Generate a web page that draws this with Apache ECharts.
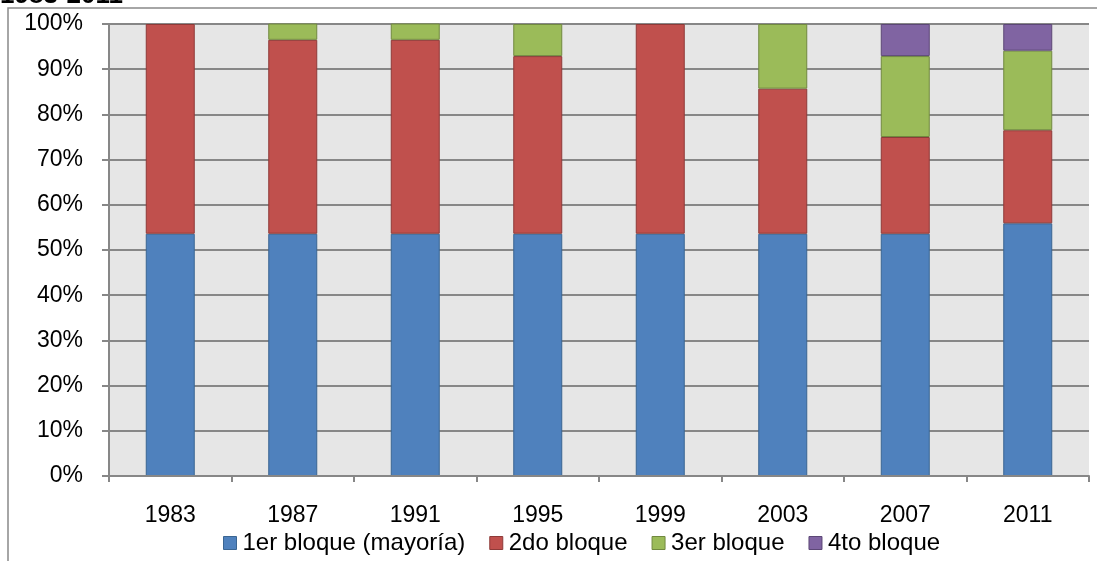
<!DOCTYPE html>
<html>
<head>
<meta charset="utf-8">
<script src="https://cdn.jsdelivr.net/npm/echarts@6/dist/echarts.min.js"></script>
<style>
  html, body { margin: 0; padding: 0; background: #fff; }
  #chart { width: 1097px; height: 561px; }
</style>
</head>
<body>
<div id="chart"></div>
<script>
// Seat shares (%) per bloc, by election year
const years = ['1983', '1987', '1991', '1995', '1999', '2003', '2007', '2011'];
const bloque1 = [53.6, 53.6, 53.6, 53.6, 53.6, 53.6, 53.6, 55.9];
const bloque2 = [46.4, 42.9, 42.9, 39.3, 46.4, 32.1, 21.4, 20.6];
const bloque3 = [0, 3.6, 3.6, 7.1, 0, 14.3, 17.9, 17.6];
const bloque4 = [0, 0, 0, 0, 0, 0, 7.1, 5.9];
const seriesNames = ['1er bloque (mayoría)', '2do bloque', '3er bloque', '4to bloque'];
const yTicks = [0, 10, 20, 30, 40, 50, 60, 70, 80, 90, 100];

const fills = ['#4F81BD', '#C0504D', '#9BBB59', '#8064A2'];
const edges = ['#3A6592', '#8E3A38', '#71893F', '#5C4776'];
const font = '"Liberation Sans", Arial, sans-serif';
const gridGray = '#878787';

const chart = echarts.init(document.getElementById('chart'), null, { renderer: 'canvas' });

// empty segments are left out so they draw no outline
const data = [bloque1, bloque2, bloque3, bloque4].map(arr => arr.map(v => (v === 0 ? null : v)));

chart.setOption({
  animation: false,
  backgroundColor: '#fff',
  textStyle: { fontFamily: font },
  graphic: [
    {
      type: 'rect',
      shape: { x: 8, y: 8, width: 1200, height: 700 },
      style: { fill: 'none', stroke: '#898989', lineWidth: 1.5 },
      z: 0
    },
    {
      type: 'text',
      left: 0,
      top: -17,
      style: { text: '1983-2011', font: 'bold 26px ' + font, fill: '#000' }
    }
  ],
  grid: {
    left: 109, right: 8, top: 24, bottom: 85,
    show: true, backgroundColor: '#E6E6E6', borderWidth: 0
  },
  legend: {
    top: 526,
    left: 218,
    itemWidth: 13, itemHeight: 13, itemGap: 24,
    icon: 'rect',
    textStyle: { fontSize: 24, color: '#000', fontFamily: font, padding: [0, 0, 0, 1] },
    data: seriesNames.map((n, i) => ({
      name: n,
      itemStyle: { color: fills[i], borderColor: edges[i], borderWidth: 1 }
    }))
  },
  xAxis: {
    type: 'category',
    data: years,
    axisLine: { lineStyle: { color: gridGray, width: 2 } },
    axisTick: { show: true, alignWithLabel: false, length: 6, lineStyle: { color: gridGray, width: 2 } },
    axisLabel: { fontSize: 23, color: '#000', margin: 28, fontFamily: font },
    z: 5
  },
  yAxis: {
    type: 'value',
    min: 0, max: 100, interval: 10,
    axisLine: { show: true, lineStyle: { color: gridGray, width: 2 } },
    axisTick: { show: true, length: 7, lineStyle: { color: gridGray, width: 2 } },
    axisLabel: {
      fontSize: 23, color: '#000', margin: 26, fontFamily: font,
      customValues: yTicks,
      formatter: v => v + '%'
    },
    splitLine: { show: true, lineStyle: { color: gridGray, width: 2 } }
  },
  series: seriesNames.map((n, i) => ({
    name: n,
    type: 'bar',
    stack: 'total',
    barWidth: 49,
    data: data[i],
    itemStyle: { color: fills[i], borderColor: edges[i], borderWidth: 1 },
    z: 3
  }))
});
</script>
</body>
</html>
